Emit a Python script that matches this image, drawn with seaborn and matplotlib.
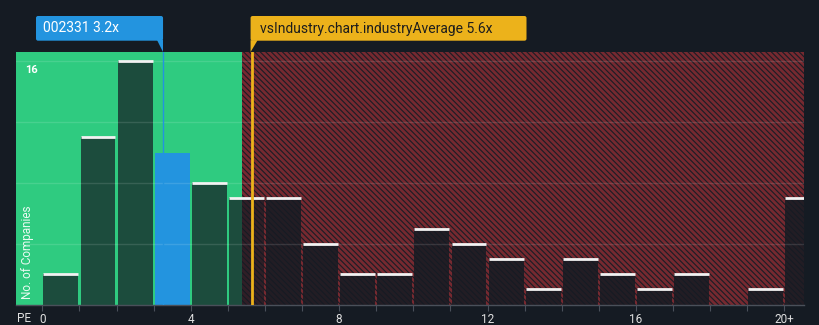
import numpy as np
import pandas as pd
import matplotlib
matplotlib.use("Agg")
import matplotlib.pyplot as plt
import seaborn as sns
from matplotlib.patches import Polygon, FancyBboxPatch

# ---- data ----
bin_left = list(range(0, 21))
counts = [2, 11, 16, 10, 8, 7, 7, 4, 2, 2, 5, 4, 3, 1, 3, 2, 1, 2, 0, 1, 7]
highlight_bin = 3
x_ticks = [0, 4, 8, 12, 16, 20]
x_tick_labels = ["0", "4", "8", "12", "16", "20+"]
y_grid = [4, 8, 12, 16]
y_label_values = [16]
company_value = 3.24
company_label = "002331 3.2x"
industry_value = 5.64
industry_label = "vsIndustry.chart.industryAverage 5.6x"
fair_upper = 5.37

BG = "#151b23"
GREEN = "#2fcb80"
BLUE = "#2394df"
YELLOW = "#ecb21b"
HATCH_RED = "#762930"

plt.rcParams["font.family"] = ["Roboto", "DejaVu Sans"]
plt.rcParams["hatch.linewidth"] = 2.0

W, H = 820, 325
fig = plt.figure(figsize=(W / 100, H / 100), dpi=100, facecolor=BG)
ax = fig.add_axes([16 / W, (H - 304.5) / H, (804 - 16) / W, (304.5 - 52) / H])
ax.set_facecolor(BG)

xmin, xmax = -0.71, 20.53
ymax = 16.62

# zones
ax.axvspan(xmin, fair_upper, facecolor=GREEN, edgecolor="none", zorder=0)
ax.axvspan(fair_upper, 22, facecolor="#1b1d26", edgecolor=HATCH_RED,
           hatch="\\\\\\\\\\\\", linewidth=0, zorder=0)

n_before = len(ax.patches)
df = pd.DataFrame({"pe": [b + 0.5 for b in bin_left], "n": counts})
sns.barplot(data=df, x="pe", y="n", native_scale=True, width=0.94,
            ax=ax, linewidth=0, errorbar=None, zorder=2)
bars = ax.patches[n_before:]
for i, p in enumerate(bars):
    if i == highlight_bin:
        p.set_facecolor(BLUE)
        p.set_alpha(1)
    else:
        p.set_facecolor(BG)
        p.set_alpha(0.72 if bin_left[i] < fair_upper else 0.86)
    p.set_edgecolor("none")
    p.set_zorder(2)

ax.set_xlim(xmin, xmax)
ax.set_ylim(0, ymax)

lefts = np.array(bin_left, dtype=float)
cnt = np.array(counts, dtype=float)
mask = (cnt > 0) & (np.arange(len(cnt)) != highlight_bin)
ax.hlines(cnt[mask], lefts[mask] + 0.03, lefts[mask] + 0.97, colors="#f2f2f2",
          linewidth=2, zorder=3)

for g in y_grid:
    ax.axhline(g, color="white", alpha=0.12, linewidth=1, zorder=4)

# marker lines
ax.axvline(company_value, color=BLUE, linewidth=1, zorder=5)
ax.axvline(industry_value, color=YELLOW, linewidth=2, zorder=5)

# axes styling
for s in ["top", "right", "left"]:
    ax.spines[s].set_visible(False)
ax.spines["bottom"].set_color("#4a505a")
ax.spines["bottom"].set_linewidth(1)
ax.set_xticks(range(0, 21))
ax.set_xticklabels([x_tick_labels[x_ticks.index(t)] if t in x_ticks else "" for t in range(0, 21)])
ax.tick_params(axis="x", length=4, color="#4a505a", labelcolor="#e0e0e0",
               labelsize=8.5, pad=2)
ax.set_yticks([])
ax.set_xlabel("")
ax.set_ylabel("")

for v in y_label_values:
    ax.text(0.011, v - 0.25, str(v), transform=ax.get_yaxis_transform(),
            color="white", fontsize=8, fontweight="bold", va="top", ha="left", zorder=6)

ax.text(0.014, 0.205, "No. of Companies", transform=ax.transAxes, rotation=90,
        color="white", alpha=0.9, fontsize=8.5, ha="center", va="center", zorder=6)
fig.text(24 / W, 1 - 318 / H, "PE", color="#e0e0e0", fontsize=8.5,
         ha="center", va="center")

# annotation boxes (display coords)
fig.canvas.draw()
cx = ax.transData.transform((company_value, 0))[0]
ix = ax.transData.transform((industry_value, 0))[0]
top_box, bot_box, ax_top = H - 16, H - 40.7, H - 52

def box(x0, x1, color):
    fig.patches.append(FancyBboxPatch((x0, bot_box), x1 - x0, top_box - bot_box,
                                      boxstyle="round,pad=0,rounding_size=2",
                                      facecolor=color, edgecolor="none",
                                      transform=None, figure=fig))

box(36, cx + 0.5, BLUE)
fig.patches.append(Polygon([(cx - 6, bot_box + 0.5), (cx + 0.5, bot_box + 0.5), (cx + 0.5, ax_top)],
                           closed=True, facecolor=BLUE, edgecolor="none",
                           transform=None, figure=fig))
fig.text(43 / W, 1 - 28.5 / H, company_label, color="white", fontsize=10,
         ha="left", va="center")

box(ix - 1, 526.5, YELLOW)
fig.patches.append(Polygon([(ix - 1, bot_box + 0.5), (ix + 6, bot_box + 0.5), (ix - 1, ax_top)],
                           closed=True, facecolor=YELLOW, edgecolor="none",
                           transform=None, figure=fig))
fig.text(260 / W, 1 - 28.5 / H, industry_label, color="#1d1d1d", fontsize=10,
         ha="left", va="center")

fig.savefig("out.png", dpi=100, facecolor=BG)
